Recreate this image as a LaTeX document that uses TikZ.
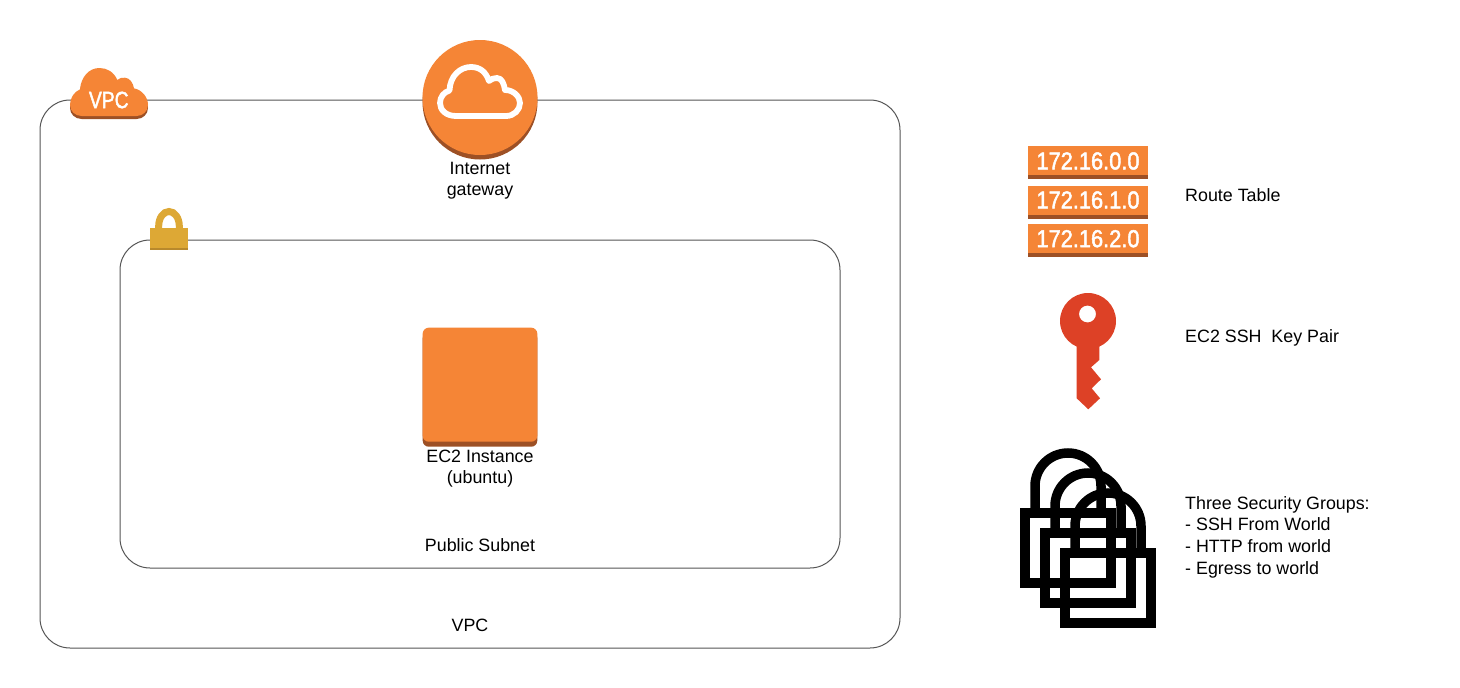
\documentclass[tikz,border=0pt]{standalone}
\usepackage{fontspec}
\usepackage{graphicx}
\setmainfont{Liberation Sans}
\newfontfamily\badgefont[FakeBold=2]{Liberation Sans}
\definecolor{awsorange}{HTML}{F58536}
\definecolor{awsdark}{HTML}{9D5025}
\definecolor{lockgold}{HTML}{DDA835}
\definecolor{lockdark}{HTML}{B8892C}
\definecolor{keyred}{HTML}{DD4126}
\definecolor{frameline}{HTML}{555555}
\tikzset{
  x=1pt,y=-1pt,
  container/.style={draw=frameline,line width=1pt,rounded corners=30pt,inner sep=0pt,outer sep=0pt,fill=none},
  lbl/.style={font=\fontsize{17.85}{21.7}\selectfont,text=black,inner sep=0pt,align=center},
  lblleft/.style={lbl,align=left,anchor=west},
  routebox/.style={fill=awsorange,draw=none,inner sep=0pt,outer sep=0pt,minimum width=120pt,minimum height=29pt},
  routetxt/.style={text=white,inner sep=0pt,font=\fontsize{24.5}{25}\badgefont},
  padlock/.style={line width=9.5pt,draw=black,line join=miter},
}
\newcommand{\vpccloud}{(81.7,116) .. controls (75,116) and (70,111) .. (70,105) .. controls (70,98) and (74,92) .. (80,89.3)
  .. controls (81,77) and (89,68) .. (99.5,68) .. controls (107,68) and (114,72) .. (117.3,80)
  .. controls (119,78) and (122,77.5) .. (125,77.7) .. controls (130,78) and (133,83) .. (134,88.3)
  .. controls (142,90) and (148,97) .. (148,105) .. controls (148,111) and (143,116) .. (136.7,116) -- cycle}
\newcommand{\padlockshape}[2]{%
  \begin{scope}[shift={(#1,#2)}]
    \draw[padlock] (5,-27) rectangle (91,43);
    \draw[padlock] (15,-32) -- (15,-54) arc[start angle=180,end angle=0,x radius=33,y radius=-33] -- (81,-32);
  \end{scope}}
\begin{document}
\begin{tikzpicture}
\useasboundingbox (0,0) rectangle (1460,688);
\fill[white] (0,0) rectangle (1460,688);

% containers
\node[container,minimum width=860pt,minimum height=548pt] (vpcbox) at (470,374) {};
\node[container,minimum width=720pt,minimum height=328pt] (subnetbox) at (480,404) {};

% VPC cloud badge
\fill[awsdark,yshift=-3pt] \vpccloud;
\fill[awsorange] \vpccloud;
\node[text=white,inner sep=0pt,font=\fontsize{23.5}{25}\badgefont] (vpcbadge) at (108.8,100) {\scalebox{0.82}[1]{VPC}};

% Internet gateway
\fill[awsdark] (480,102) circle[radius=57.5];
\fill[awsorange] (480,97.5) circle[radius=57.5];
\draw[white,line width=5.8pt,line join=round] (456,116) .. controls (446,116) and (440,110) .. (440,103) .. controls (440,97) and (444,92) .. (449.5,90.5)
  .. controls (450,76) and (460,67) .. (471,67) .. controls (480,67) and (486,72) .. (489,81)
  .. controls (491,79) and (494,78) .. (497,78) .. controls (502,78) and (504,84) .. (505,90)
  .. controls (514,90) and (520,97) .. (520,103) .. controls (520,110) and (514,116) .. (506,116) -- cycle;
\node[lbl] (igwlabel) at (480,180.7) {Internet\\gateway};

% subnet lock
\fill[lockgold] (150,228) rectangle (187.5,249);
\fill[lockdark] (150,248.2) rectangle (187.5,249.5);
\draw[lockgold,line width=7pt] (158.7,230) -- (158.7,226) arc[start angle=180,end angle=0,x radius=10.3,y radius=-14.5] -- (179.3,230);

% EC2 instance
\fill[awsdark,rounded corners=6pt] (422.7,332) rectangle (537.3,446.7);
\fill[awsorange,rounded corners=6pt] (422.7,327.7) rectangle (537.3,441.7);
\node[lbl] (ec2label) at (480,468.7) {EC2 Instance\\(ubuntu)};
\node[lbl] (subnetlabel) at (480,545) {Public Subnet};
\node[lbl] (vpclabel) at (470,625) {VPC};

% Route table
\fill[awsdark] (1028,146) rectangle (1148,179);
\node[routebox,anchor=north west] (rt0) at (1028,146) {};
\node[routetxt] at (1088,161) {\scalebox{0.89}[1]{172.16.0.0}};
\fill[awsdark] (1028,186) rectangle (1148,219);
\node[routebox,anchor=north west] (rt1) at (1028,186) {};
\node[routetxt] at (1088,200) {\scalebox{0.89}[1]{172.16.1.0}};
\fill[awsdark] (1028,224) rectangle (1148,257.3);
\node[routebox,anchor=north west] (rt2) at (1028,224) {};
\node[routetxt] at (1088,238.7) {\scalebox{0.89}[1]{172.16.2.0}};
\node[lblleft] (rtlabel) at (1185,195) {Route Table};

% Key
\fill[keyred,even odd rule] (1088,321) circle[radius=28] (1087.5,314) circle[radius=8.5];
\fill[keyred] (1099.3,345) -- (1099.3,360) -- (1091,367.3) -- (1101,379.3) -- (1091.7,388.3) -- (1100,398.3) -- (1088.3,409.3) -- (1076.7,398.3) -- (1076.7,345) -- cycle;
\node[lblleft] (keylabel) at (1185,338) {EC2 SSH\ \ Key Pair};

% Security groups
\padlockshape{1020}{540}
\padlockshape{1040}{560}
\padlockshape{1060}{580}
\node[lblleft] (sglabel) at (1185,537) {Three Security Groups:\\- SSH From World\\- HTTP from world\\- Egress to world};
\end{tikzpicture}
\end{document}
